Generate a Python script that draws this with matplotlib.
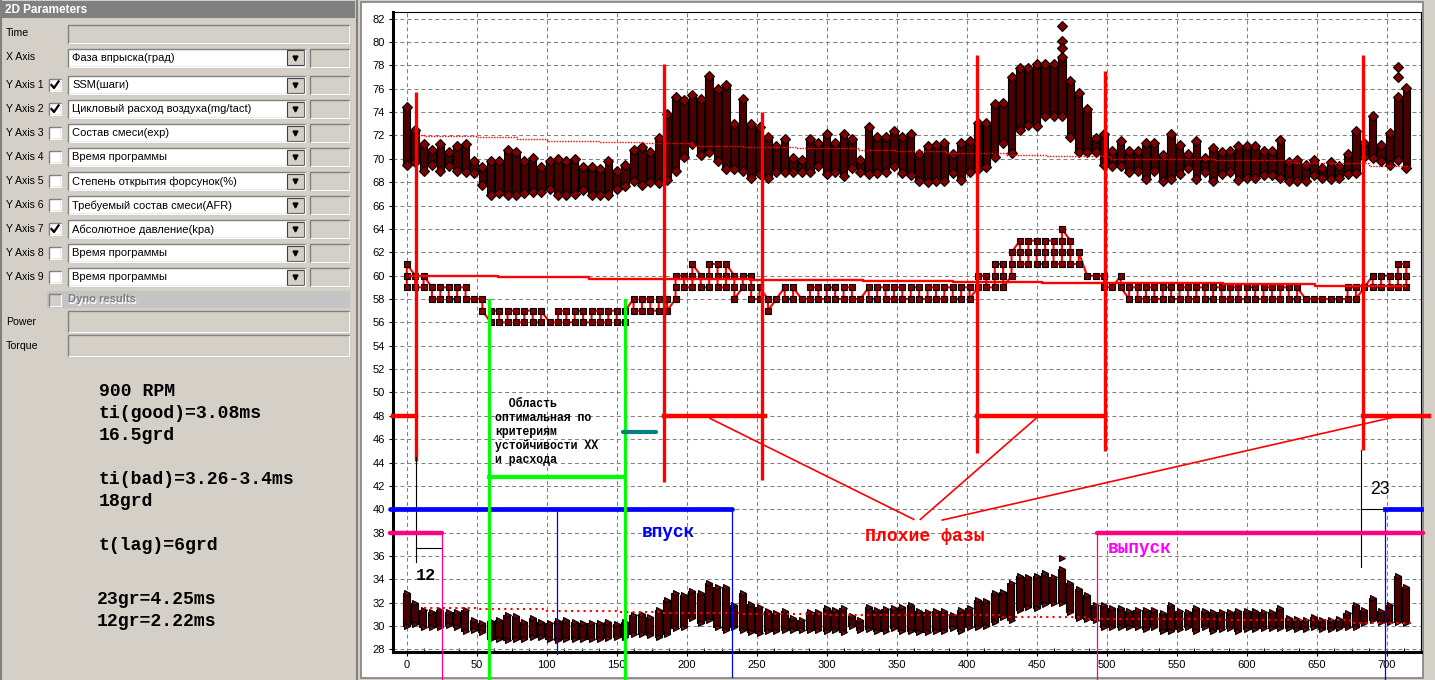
import numpy as np
import matplotlib.pyplot as plt
from matplotlib.patches import Rectangle
from matplotlib.ticker import MultipleLocator

# ---------------- values ----------------
phase = [0, 6, 12, 18, 24, 30, 36, 42, 48, 54,
         60, 66, 72, 78, 84, 90, 96, 102, 108, 114,
         120, 126, 132, 138, 144, 150, 156, 162, 168, 174,
         180, 186, 192, 198, 204, 210, 216, 222, 228, 234,
         240, 246, 252, 258, 264, 270, 276, 282, 288, 294,
         300, 306, 312, 318, 324, 330, 336, 342, 348, 354,
         360, 366, 372, 378, 384, 390, 396, 402, 408, 414,
         420, 426, 432, 438, 444, 450, 456, 462, 468, 474,
         480, 486, 492, 498, 504, 510, 516, 522, 528, 534,
         540, 546, 552, 558, 564, 570, 576, 582, 588, 594,
         600, 606, 612, 618, 624, 630, 636, 642, 648, 654,
         660, 666, 672, 678, 684, 690, 696, 702, 708, 714]

# cycle air flow (mg/tact) - lowest / highest point of every phase column
air_lo = [69.5, 69.7, 69.0, 69.5, 69.0, 69.4, 69.0, 68.9, 68.8, 67.8,
          66.9, 67.1, 66.9, 66.9, 67.1, 67.2, 67.2, 67.4, 66.9, 66.9,
          67.0, 67.3, 66.9, 66.9, 66.9, 67.4, 67.7, 68.1, 67.8, 68.0,
          67.9, 68.2, 69.0, 70.2, 71.3, 70.3, 70.6, 69.8, 69.1, 69.1,
          69.0, 68.4, 68.7, 68.4, 68.9, 68.9, 68.9, 68.9, 68.9, 69.4,
          68.7, 68.9, 68.5, 69.2, 68.9, 68.7, 68.8, 68.9, 69.4, 68.8,
          68.6, 68.1, 68.0, 68.1, 68.1, 68.8, 68.2, 68.9, 69.1, 69.3,
          70.2, 71.4, 70.5, 72.5, 72.9, 72.8, 73.7, 73.7, 73.7, 71.9,
          70.6, 70.6, 70.6, 69.5, 69.4, 69.4, 68.9, 69.0, 68.3, 69.0,
          68.1, 68.3, 68.7, 69.2, 68.3, 68.9, 68.1, 68.7, 68.9, 68.2,
          68.4, 68.4, 68.6, 68.6, 68.4, 68.1, 68.1, 68.1, 68.6, 68.4,
          68.3, 68.4, 68.7, 68.8, 70.2, 70.1, 69.8, 69.5, 69.9, 69.2]
air_hi = [74.4, 72.5, 71.3, 70.8, 71.3, 70.6, 71.1, 71.3, 69.8, 69.3,
          69.8, 69.8, 70.8, 70.6, 69.8, 70.1, 69.3, 69.8, 70.0, 69.8,
          70.0, 69.3, 69.3, 69.1, 69.8, 69.0, 69.5, 70.8, 71.0, 70.6,
          71.8, 73.8, 75.3, 75.0, 75.5, 75.1, 77.1, 76.0, 76.3, 73.0,
          75.1, 73.0, 72.7, 71.9, 71.1, 71.7, 70.1, 69.9, 71.7, 71.4,
          72.1, 71.4, 72.1, 71.7, 69.9, 72.7, 71.9, 71.9, 72.4, 71.9,
          72.1, 70.4, 71.1, 71.2, 71.4, 70.4, 71.4, 71.5, 73.1, 73.1,
          74.7, 74.8, 77.0, 77.8, 77.8, 78.1, 78.1, 78.1, 78.7, 76.7,
          75.6, 74.3, 71.8, 72.1, 70.7, 71.5, 70.7, 70.7, 71.4, 71.4,
          70.3, 72.1, 71.2, 70.4, 71.5, 70.1, 70.9, 70.6, 70.7, 71.1,
          71.1, 71.1, 70.7, 70.7, 71.6, 69.7, 69.9, 69.5, 69.9, 69.2,
          69.7, 69.4, 70.4, 72.4, 71.4, 73.7, 71.2, 72.2, 75.3, 76.1]
air_extra_x = [468, 468, 468, 708, 708]
air_extra_y = [81.4, 80.1, 79.5, 77.9, 77.0]
air_trend_x = [6, 12, 50, 79, 100, 138, 169, 204, 240, 279, 322, 349, 385,
               428, 457, 502, 577, 634, 687, 717]
air_trend_y = [72.06, 71.97, 71.86, 71.69, 71.57, 71.43, 71.34, 71.14, 71.03,
               70.94, 70.8, 70.66, 70.5, 70.37, 70.23, 70.0, 69.9, 69.66,
               69.37, 69.37]

# SSM (steps) - integer values present in every phase column
ssm_steps = [[59, 60, 61], [59, 60], [59, 60], [58, 59], [58, 59], [58, 59], [58, 59], [58, 59], [58], [57, 58],
             [56, 57], [56, 57], [56, 57], [56, 57], [56, 57], [56, 57], [56, 57], [56], [56, 57], [56, 57],
             [56, 57], [56, 57], [56, 57], [56, 57], [56, 57], [56, 57], [56, 57], [57, 58], [57, 58], [57, 58],
             [57, 58], [57, 58], [58, 59, 60], [59, 60], [59, 60, 61], [59, 60], [59, 60, 61], [59, 60, 61], [59, 60, 61], [58, 59, 60],
             [59, 60], [58, 59, 60], [58, 59], [57, 58], [58], [58, 59], [58, 59], [58], [58, 59], [58, 59],
             [58, 59], [58, 59], [58, 59], [58, 59], [58], [58, 59], [58, 59], [58, 59], [58, 59], [58, 59],
             [58, 59], [58, 59], [58, 59], [58, 59], [58, 59], [58, 59], [58, 59], [58, 59], [59, 60], [59, 60],
             [59, 60, 61], [59, 60, 61], [60, 61, 62], [61, 62, 63], [61, 62, 63], [61, 62, 63], [61, 62, 63], [61, 62, 63], [61, 62, 63, 64], [61, 62, 63],
             [61, 62], [60], [60], [59, 60], [59], [59, 60], [58, 59], [58, 59], [58, 59], [58, 59],
             [58, 59], [58, 59], [58, 59], [58, 59], [58, 59], [58, 59], [58, 59], [58, 59], [58, 59], [58, 59],
             [58, 59], [58, 59], [58, 59], [58, 59], [58, 59], [58, 59], [58, 59], [58], [58], [58],
             [58], [58], [58, 59], [58, 59], [59], [59, 60], [59, 60], [59, 60], [59, 60, 61], [59, 60, 61]]
ssm_trend_x = [2, 65, 130, 245, 326, 390, 454, 583, 649, 713]
ssm_trend_y = [60.0, 59.86, 59.74, 59.65, 59.5, 59.45, 59.35, 59.25, 59.15, 59.15]

# absolute pressure (kPa)
press_lo = [30.0, 30.17, 29.94, 29.94, 29.94, 30.1, 29.94, 29.6, 29.66, 29.5,
            28.86, 28.86, 28.8, 28.86, 28.86, 29.09, 29.09, 28.86, 28.8, 28.86,
            28.86, 28.86, 28.86, 28.86, 28.94, 29.09, 29.09, 29.31, 29.31, 29.23,
            29.09, 29.31, 29.8, 29.94, 30.66, 30.23, 30.5, 29.94, 29.66, 29.94,
            29.7, 29.45, 29.4, 29.6, 29.6, 29.66, 29.66, 29.66, 29.66, 29.66,
            29.6, 29.66, 29.51, 30.0, 29.66, 29.71, 29.6, 29.6, 29.8, 29.6,
            29.6, 29.51, 29.51, 29.6, 29.6, 29.8, 29.6, 29.89, 29.94, 30.0,
            30.37, 30.74, 30.51, 31.37, 31.66, 31.51, 31.89, 32.0, 32.0, 31.23,
            30.66, 30.57, 30.51, 29.89, 29.89, 29.89, 29.89, 29.94, 29.71, 29.94,
            29.6, 29.6, 29.71, 29.89, 29.6, 29.94, 29.6, 29.71, 29.8, 29.6,
            29.71, 29.71, 29.8, 29.8, 29.8, 29.8, 29.71, 29.71, 29.89, 29.71,
            29.71, 29.8, 29.89, 29.89, 30.23, 30.51, 30.37, 30.37, 30.37, 30.23]
press_hi = [32.86, 32.0, 31.37, 31.2, 31.37, 31.2, 31.2, 31.37, 30.5, 30.29,
            30.46, 30.5, 30.94, 30.86, 30.37, 30.66, 30.37, 30.29, 30.46, 30.5,
            30.37, 30.29, 30.23, 30.29, 30.37, 30.17, 30.37, 30.94, 31.03, 30.8,
            31.37, 32.23, 32.8, 32.66, 33.03, 32.8, 33.66, 33.37, 33.31, 31.8,
            32.8, 31.85, 31.6, 31.31, 31.14, 31.31, 30.66, 30.51, 31.23, 31.23,
            31.51, 31.37, 31.51, 30.86, 30.51, 31.66, 31.37, 31.43, 31.51, 31.66,
            31.8, 31.31, 31.23, 31.31, 31.31, 30.94, 31.37, 31.51, 32.23, 32.17,
            32.8, 32.94, 33.71, 34.29, 34.17, 34.29, 34.57, 34.23, 34.9, 33.66,
            33.14, 32.66, 31.8, 31.8, 31.51, 31.51, 31.31, 31.37, 31.37, 31.37,
            31.09, 31.8, 31.31, 31.23, 31.51, 31.31, 31.23, 31.23, 31.23, 31.31,
            31.31, 31.31, 31.23, 31.23, 31.51, 30.66, 30.57, 30.51, 30.74, 30.51,
            30.51, 30.57, 31.09, 31.8, 31.37, 32.37, 31.31, 31.8, 34.29, 33.37]
press_extra_x = [468]
press_extra_y = [35.8]
press_trend_x = [12, 50, 100, 150, 181, 238, 300, 425, 487, 581, 674, 717]
press_trend_y = [31.51, 31.43, 31.31, 31.23, 31.15, 31.05, 30.91, 30.74, 30.63,
                 30.51, 30.29, 30.29]

# hand-drawn overlay on the chart (data coordinates)
bad_x = [6.4, 183.8, 253.8, 407.6, 498.9, 682.7]
bad_lo = [44.1, 42.35, 42.5, 44.84, 44.98, 45.1]
bad_hi = [75.7, 78.1, 74.0, 78.9, 77.5, 78.9]
bad_bar_x0 = [-10, 183.8, 407.6, 682.7]
bad_bar_x1 = [6.4, 256.0, 498.9, 730.5]
bad_bar_y = 48.0
callout_x = [[216.6, 362.2], [449.5, 366.9], [707.1, 382.5]]
callout_y = [[47.78, 39.13], [47.78, 39.13], [47.94, 39.07]]
area_lines = ['  Область', 'оптимальная по', 'критериям', 'устойчивости ХХ', 'и расхода']
area_y = [49.0, 47.84, 46.64, 45.44, 44.2]

# left form
form_axes = ['Y Axis 1', 'Y Axis 2', 'Y Axis 3', 'Y Axis 4', 'Y Axis 5',
             'Y Axis 6', 'Y Axis 7', 'Y Axis 8', 'Y Axis 9']
form_values = ['SSM(шаги)', 'Цикловый расход воздуха(mg/tact)', 'Состав смеси(exp)',
               'Время программы', 'Степень открытия форсунок(%)',
               'Требуемый состав смеси(AFR)', 'Абсолютное давление(kpa)',
               'Время программы', 'Время программы']
form_checked = [True, True, False, False, False, False, True, False, False]
notes = ['900 RPM', 'ti(good)=3.08ms', '16.5grd', '', 'ti(bad)=3.26-3.4ms',
         '18grd', '', 't(lag)=6grd']
notes2 = ['23gr=4.25ms', '12gr=2.22ms']

# ---------------- figure ----------------
W, H = 1435, 680
fig = plt.figure(figsize=(W / 100, H / 100), dpi=100)
fig.patch.set_facecolor('#d4d0c8')
PANEL = '#d4d0c8'
SANS = 'Liberation Sans'
MONO = 'Liberation Mono'
LAB = 7.6

gui = fig.add_axes([0, 0, 1, 1])
gui.set_xlim(0, W)
gui.set_ylim(H, 0)
gui.axis('off')


def box(x0, y0, x1, y1, face):
    gui.add_patch(Rectangle((x0, y0), x1 - x0, y1 - y0, facecolor=face,
                            edgecolor='#808080', lw=1))
    gui.plot([x0 + 1, x1, x1], [y1, y1, y0 + 1], color='white', lw=1)


def combo(y0, y1, text):
    box(68, y0, 305, y1, 'white')
    gui.text(72, (y0 + y1) / 2 + 0.5, text, fontsize=8, family=SANS, va='center')
    gui.add_patch(Rectangle((287, y0 + 1.5), 16.5, y1 - y0 - 3, facecolor=PANEL,
                            edgecolor='#404040', lw=0.8))
    gui.plot([295.2], [(y0 + y1) / 2], marker='v', ms=3.5, color='black')
    box(310, y0, 349, y1, PANEL)


# panel frame
gui.plot([0.8, 0.8], [0, H], color='#808080', lw=1.5)
gui.add_patch(Rectangle((1, 1), 354, 17, facecolor='#808080', edgecolor='none'))
gui.text(5, 10, '2D Parameters', color='white', fontsize=8.5, family=SANS,
         weight='bold', va='center')
gui.plot([356.5, 356.5], [0, H], color='#808080', lw=1.5)
gui.add_patch(Rectangle((361, 1.5), 1062, 676.5, facecolor='white',
                        edgecolor='#808080', lw=1.2))

gui.text(6, 33, 'Time', fontsize=LAB, family=SANS, va='center')
box(68, 25, 349, 43, PANEL)
gui.text(6, 57, 'X Axis', fontsize=LAB, family=SANS, va='center')
combo(48.5, 66.5, 'Фаза впрыска(град)')
for i, (lab, val, chk) in enumerate(zip(form_axes, form_values, form_checked)):
    yc = 85 + 24 * i
    gui.text(6, yc, lab, fontsize=LAB, family=SANS, va='center')
    box(49, yc - 6, 61, yc + 6, 'white')
    if chk:
        gui.plot([51.5, 54, 58.5], [yc, yc + 3, yc - 3.5], color='black', lw=1.6)
    combo(yc - 9, yc + 9, val)

gui.add_patch(Rectangle((47, 291), 303, 17, facecolor='#c4c4c4', edgecolor='none'))
box(49, 293.5, 61, 305.5, PANEL)
gui.text(69, 300.5, 'Dyno results', color='white', fontsize=8, family=SANS,
         weight='bold', va='center')
gui.text(68, 299.5, 'Dyno results', color='#808080', fontsize=8, family=SANS,
         weight='bold', va='center')
gui.text(6, 322, 'Power', fontsize=LAB, family=SANS, va='center')
box(68, 311, 349, 332, PANEL)
gui.text(6, 346, 'Torque', fontsize=LAB, family=SANS, va='center')
box(68, 335, 349, 356, PANEL)

for i, line in enumerate(notes):
    gui.text(99, 391 + 22 * i, line, fontsize=13.1, family=MONO, weight='bold',
             va='center')
for i, line in enumerate(notes2):
    gui.text(97, 600 + 21.6 * i, line, fontsize=13.1, family=MONO, weight='bold',
             va='center')

# ---------------- chart ----------------
ax = fig.add_axes([393.3 / W, 1 - 651.7 / H, (1420.6 - 393.3) / W, (651.7 - 11.7) / H])
ax.set_facecolor('white')
ax.set_xlim(-9.6, 724.2)
ax.set_ylim(27.8, 82.6)
ax.set_axisbelow(True)
ax.set_xticks(range(0, 701, 50))
ax.set_yticks(range(28, 83, 2))
ax.xaxis.set_minor_locator(MultipleLocator(12.5))
ax.tick_params(axis='both', which='major', direction='out', length=3, width=0.8,
               labelsize=8, pad=3)
ax.tick_params(axis='x', which='minor', direction='in', length=3, width=0.8)
for lab in ax.get_xticklabels() + ax.get_yticklabels():
    lab.set_family(SANS)
ax.grid(True, which='major', color='#808080', ls=(0, (3.8, 2.9)), lw=0.75)
for side in ['left', 'bottom']:
    ax.spines[side].set_linewidth(2.2)
for side in ['top', 'right']:
    ax.spines[side].set_linewidth(0.8)

DARK = '#800000'
STACK = '#4a0000'
phase_a = np.array(phase)
mk = dict(mfc=DARK, mec='black', mew=0.8, ls='none', zorder=4)

# cycle air flow: stacked diamonds
air_lo_a, air_hi_a = np.array(air_lo), np.array(air_hi)
ax.bar(phase_a, air_hi_a - air_lo_a, bottom=air_lo_a, width=5.2, color=STACK,
       edgecolor='black', lw=0.8, zorder=3)
ax.plot(phase_a, air_lo_a, 'D', ms=4.8, **mk)
ax.plot(phase_a, air_hi_a, 'D', ms=4.8, **mk)
ax.plot(air_extra_x, air_extra_y, 'D', ms=4.8, **mk)
ax.plot(air_trend_x, air_trend_y, color='red', ls=(0, (1, 1)), lw=1,
        drawstyle='steps-post', zorder=5)

# SSM: squares joined in order
sx, sy = [], []
for k, (x, vals) in enumerate(zip(phase, ssm_steps)):
    sx += [x] * len(vals)
    sy += sorted(vals, reverse=(k % 2 == 1))
ax.plot(sx, sy, color='red', lw=1.5, zorder=3)
ax.plot(sx, sy, 's', ms=4.8, **mk)
ax.plot(ssm_trend_x, ssm_trend_y, color='red', lw=1.7, drawstyle='steps-post', zorder=5)

# absolute pressure: stacked triangles
press_lo_a, press_hi_a = np.array(press_lo), np.array(press_hi)
ax.bar(phase_a - 2.9, press_hi_a - press_lo_a, bottom=press_lo_a, width=5.0,
       align='edge', color=STACK, edgecolor='black', lw=0.8, zorder=3)
ax.plot(phase_a, press_lo_a, '>', ms=5, **mk)
ax.plot(phase_a, press_hi_a, '>', ms=5, **mk)
ax.plot(press_extra_x, press_extra_y, '>', ms=5, **mk)
ax.plot(press_trend_x, press_trend_y, color='red', ls=(0, (1, 2)), lw=1.5,
        drawstyle='steps-post', zorder=5)

# ---------------- overlay ----------------
Z = 6
ax.vlines(bad_x, bad_lo, bad_hi, color='red', lw=2.4, zorder=Z)
for x0, x1 in zip(bad_bar_x0, bad_bar_x1):
    ax.plot([x0, x1], [bad_bar_y, bad_bar_y], color='red', lw=3.2, zorder=Z,
            clip_on=False)
for cx, cy in zip(callout_x, callout_y):
    ax.plot(cx, cy, color='red', lw=1.2, zorder=Z)

# 12 deg marker
ax.plot([6.4, 6.4], [35.5, 44.5], color='black', lw=0.8, zorder=Z)
ax.plot([6.4, 25.0], [36.65, 36.65], color='black', lw=0.8, zorder=Z)
ax.plot([-12, 25.0], [38.0, 38.0], color='#ff0080', lw=3.2, zorder=Z,
        solid_capstyle='round', clip_on=False)
ax.plot([25.0, 25.0], [38.0, 25.4], color='#ff0080', lw=0.9, zorder=Z, clip_on=False)
ax.text(6.6, 34.3, '12', fontsize=12.2, family=MONO, weight='bold', va='center',
        zorder=Z)

# intake
ax.plot([-11.9, 232.1], [40.0, 40.0], color='#0000ff', lw=3.4, zorder=Z,
        solid_capstyle='round', clip_on=False)
ax.plot([107.1, 107.1], [40.0, 27.6], color='#0000ff', lw=0.9, zorder=Z, clip_on=False)
ax.plot([232.1, 232.1], [40.0, 25.6], color='#0000ff', lw=0.9, zorder=Z, clip_on=False)
ax.text(167.9, 38.0, 'впуск', color='#0000ff', fontsize=12.8, family=MONO,
        weight='bold', va='center', zorder=Z)

# 23 deg marker
ax.plot([681.4, 681.4], [35.08, 45.1], color='black', lw=0.8, zorder=Z)
ax.plot([681.4, 698.6], [40.0, 40.0], color='black', lw=0.8, zorder=Z)
ax.plot([698.6, 724.2], [40.0, 40.0], color='#0000ff', lw=3.4, zorder=Z, clip_on=False)
ax.plot([698.6, 698.6], [40.0, 25.5], color='#0000ff', lw=0.9, zorder=Z, clip_on=False)
ax.text(688.4, 41.7, '23', fontsize=12.7, family=SANS, va='center', zorder=Z)

# exhaust
ax.plot([493.3, 725.8], [38.0, 38.0], color='#ff0080', lw=3.2, zorder=Z,
        solid_capstyle='round', clip_on=False)
ax.plot([493.3, 493.3], [38.0, 25.4], color='#ff0080', lw=0.9, zorder=Z, clip_on=False)
ax.text(500.5, 36.64, 'выпуск', color='#ff00ff', fontsize=12.8, family=MONO,
        weight='bold', va='center', zorder=Z)

ax.text(327.0, 37.64, 'Плохие фазы', color='red', fontsize=13.1, family=MONO,
        weight='bold', va='center', zorder=Z)

# optimum area
for gx in [58.5, 155.9]:
    ax.plot([gx, gx], [57.9, 25.4], color='#00ff00', lw=2.2, zorder=Z, clip_on=False)
ax.plot([58.5, 155.9], [42.73, 42.73], color='#00ff00', lw=3.0, zorder=Z)
ax.plot([154.7, 178.0], [46.58, 46.58], color='#008080', lw=3.0, zorder=Z,
        solid_capstyle='round')
for line, ty in zip(area_lines, area_y):
    ax.text(63.1, ty, line, fontsize=8.3, family=MONO, weight='bold', va='center',
            zorder=Z)

fig.savefig('out.png', dpi=100, facecolor=fig.get_facecolor())
